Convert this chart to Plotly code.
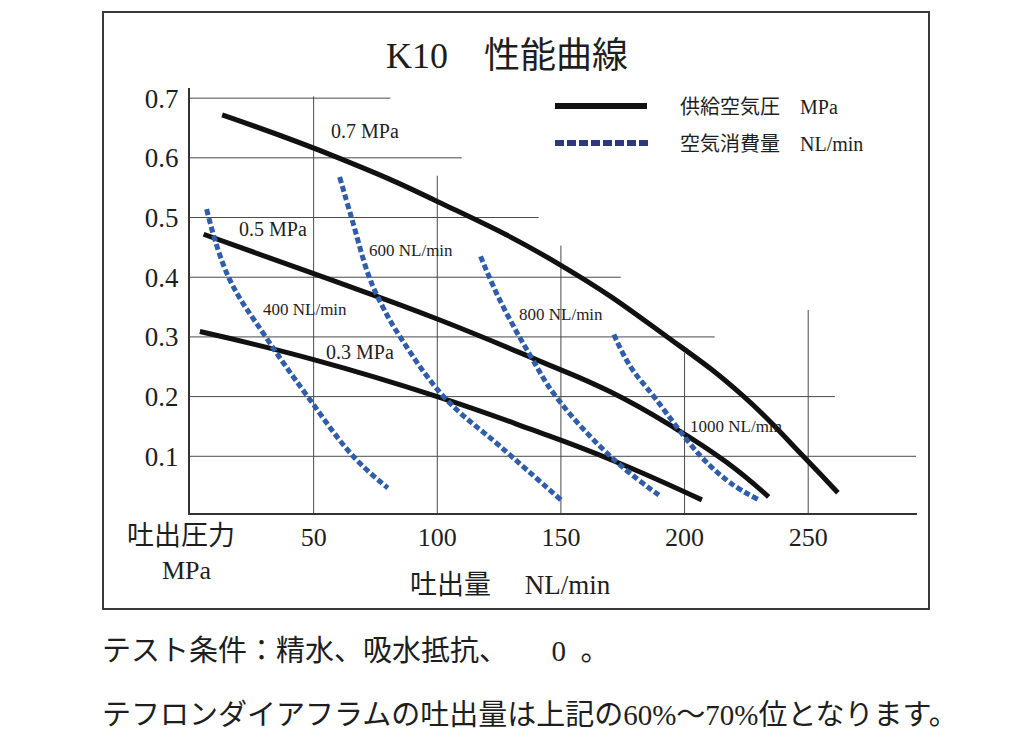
import plotly.graph_objects as go

# ---------------- data ----------------
x_tick_vals = [50, 100, 150, 200, 250]
x_tick_text = ["50", "100", "150", "200", "250"]
y_tick_vals = [0.1, 0.2, 0.3, 0.4, 0.5, 0.6, 0.7]
y_tick_text = ["0.1", "0.2", "0.3", "0.4", "0.5", "0.6", "0.7"]

# partial grid lines: horizontal level -> flow where it stops
hgrid_levels = [0.1, 0.2, 0.3, 0.4, 0.5, 0.6, 0.7]
hgrid_ends = [293.6, 260.8, 212.2, 174.2, 141.0, 109.9, 81.0]
# vertical line flow -> pressure where it stops
vgrid_flows = [50, 100, 150, 200, 250]
vgrid_tops = [0.703, 0.570, 0.453, 0.273, 0.345]

# supply air pressure curves (solid black)
p07_flow = [13, 60, 100, 150, 193, 224, 248, 262]
p07_pres = [0.672, 0.600, 0.527, 0.420, 0.300, 0.200, 0.100, 0.039]
p05_flow = [5.5, 54, 100, 140, 170, 195, 217, 234]
p05_pres = [0.472, 0.400, 0.330, 0.262, 0.208, 0.150, 0.090, 0.032]
p03_flow = [4, 50, 100, 138, 171, 207]
p03_pres = [0.309, 0.262, 0.200, 0.145, 0.093, 0.027]

# air consumption curves (dashed blue)
a400_flow = [6.7, 15.6, 30.6, 47.6, 66, 80]
a400_pres = [0.514, 0.400, 0.300, 0.200, 0.100, 0.047]
a600_flow = [60.5, 65.3, 72.5, 78, 85, 102.6, 125.6, 150]
a600_pres = [0.568, 0.500, 0.400, 0.350, 0.300, 0.200, 0.116, 0.027]
a800_flow = [117.5, 125.5, 138, 148, 170, 189.6]
a800_pres = [0.435, 0.360, 0.266, 0.200, 0.100, 0.035]
a1000_flow = [171.4, 178, 187.6, 206.6, 218.7, 229.6]
a1000_pres = [0.304, 0.251, 0.200, 0.100, 0.055, 0.028]

pressure_names = ["0.7 MPa", "0.5 MPa", "0.3 MPa"]
consumption_names = ["400 NL/min", "600 NL/min", "800 NL/min", "1000 NL/min"]

# ---------------- styling / layout ----------------
W, H = 1024, 740
ML, MR, MT, MB = 190, 107, 88, 227
PW, PH = W - ML - MR, H - MT - MB
XR = [0, 294]
YR = [0.005, 0.717]

LAT = "Liberation Serif, Noto Sans CJK JP, serif"
TXT = "#1e1e1e"
BLUE = "#2f5da9"


def px_x(px):
    return (px - ML) / PW


def px_y(py):
    return (H - MB - py) / PH


fig = go.Figure()

solid = [(p07_flow, p07_pres), (p05_flow, p05_pres), (p03_flow, p03_pres)]
for name, (xs, ys) in zip(pressure_names, solid):
    fig.add_trace(go.Scatter(x=xs, y=ys, mode="lines", name=name,
                             line=dict(color="#111111", width=5, shape="spline", smoothing=1.3),
                             showlegend=False, hoverinfo="skip"))

dashed = [(a400_flow, a400_pres), (a600_flow, a600_pres), (a800_flow, a800_pres), (a1000_flow, a1000_pres)]
for name, (xs, ys) in zip(consumption_names, dashed):
    fig.add_trace(go.Scatter(x=xs, y=ys, mode="lines", name=name,
                             line=dict(color=BLUE, width=5, dash="6px,3px", shape="spline", smoothing=1.1),
                             showlegend=False, hoverinfo="skip"))

shapes = []
grid_line = dict(color="#4a4a4a", width=1)
for lv, end in zip(hgrid_levels, hgrid_ends):
    shapes.append(dict(type="line", xref="x", yref="y", x0=XR[0], x1=end, y0=lv, y1=lv,
                       line=grid_line, layer="below"))
for fl, top in zip(vgrid_flows, vgrid_tops):
    shapes.append(dict(type="line", xref="x", yref="y", x0=fl, x1=fl, y0=YR[0], y1=top,
                       line=grid_line, layer="below"))

# outer frame
shapes.append(dict(type="rect", xref="paper", yref="paper",
                   x0=px_x(103), x1=px_x(929), y0=px_y(609), y1=px_y(12),
                   line=dict(color="#3a3a3a", width=2)))
# legend samples
shapes.append(dict(type="line", xref="paper", yref="paper", x0=px_x(555), x1=px_x(647),
                   y0=px_y(106), y1=px_y(106), line=dict(color="#111111", width=6)))
shapes.append(dict(type="line", xref="paper", yref="paper", x0=px_x(555), x1=px_x(650),
                   y0=px_y(143), y1=px_y(143), line=dict(color="#2c3a7c", width=6, dash="9px,3px")))

ann = []


def paper_text(text, px, py, size, anchor="center"):
    ann.append(dict(text=text, xref="paper", yref="paper", x=px_x(px), y=px_y(py),
                    xanchor=anchor, yanchor="middle", showarrow=False,
                    font=dict(family=LAT, size=size, color=TXT)))


paper_text("K10\u3000性能曲線", 507, 56, 36)
paper_text("供給空気圧\u3000MPa", 678, 107, 20, "left")
paper_text("空気消費量\u3000NL/min", 678, 144, 20, "left")
paper_text("吐出圧力", 181, 536, 27)
paper_text("MPa", 187, 570, 26)
paper_text("吐出量\u3000\u00a0NL/min", 510, 585, 27)
paper_text("テスト条件：精水、吸水抵抗、\u3000\u30000\u00a0\u00a0。", 100, 651, 29, "left")
paper_text("テフロンダイアフラムの吐出量は上記の60%～70%位となります。", 100, 715, 29, "left")

# curve labels (data coordinates)
curve_labels = [
    ("0.7 MPa", 70.6, 0.645, 20),
    ("0.5 MPa", 33.4, 0.481, 20),
    ("0.3 MPa", 68.6, 0.274, 20),
    ("400 NL/min", 46.7, 0.346, 17),
    ("600 NL/min", 89.2, 0.444, 17),
    ("800 NL/min", 150.0, 0.338, 17),
    ("1000 NL/min", 221.0, 0.150, 17),
]
for t, x, y, s in curve_labels:
    ann.append(dict(text=t, xref="x", yref="y", x=x, y=y, xanchor="center", yanchor="middle",
                    showarrow=False, font=dict(family=LAT, size=s, color=TXT)))

fig.update_layout(
    width=W, height=H,
    margin=dict(l=ML, r=MR, t=MT, b=MB, pad=0),
    paper_bgcolor="white", plot_bgcolor="white",
    showlegend=False,
    shapes=shapes, annotations=ann,
    font=dict(family=LAT, color=TXT),
)
fig.update_xaxes(range=XR, showgrid=False, zeroline=False, showline=True, linecolor="#333333",
                 linewidth=2, tickvals=x_tick_vals, ticktext=x_tick_text, ticks="",
                 ticklabelstandoff=0, tickfont=dict(family=LAT, size=26, color=TXT), fixedrange=True)
fig.update_yaxes(range=YR, showgrid=False, zeroline=False, showline=True, linecolor="#333333",
                 linewidth=2, tickvals=y_tick_vals, ticktext=y_tick_text, ticks="",
                 ticklabelstandoff=4, tickfont=dict(family=LAT, size=27, color=TXT), fixedrange=True)

fig.write_html("out.html", config={"displayModeBar": False},
               post_script="document.body.style.margin='0px';")
